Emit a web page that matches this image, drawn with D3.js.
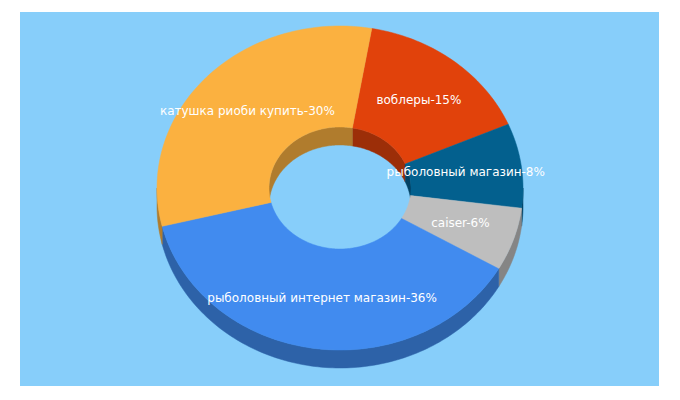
<!DOCTYPE html>
<html><head><meta charset="utf-8">
<script src="https://cdn.jsdelivr.net/npm/d3@7"></script>
<style>body{margin:0;background:#fff}</style></head>
<body><svg id="c" width="680" height="400"></svg>
<script>
const categories = ["воблеры","рыболовный магазин","caiser","рыболовный интернет магазин","катушка риоби купить"];
const values = [15, 8, 6, 36, 30];
const colors = ["#E1420B","#03608E","#BEBEBE","#418BEF","#FBB140"];
const sideColors = ["#9c2e08","#024265","#858585","#2d62a8","#b07c2d"];

const svg = d3.select("#c");
svg.append("rect").attr("x",20).attr("y",12).attr("width",639).attr("height",374).attr("fill","#87CEFA");

const cx=340, cy=188, rx=183, ry=162, irx=71, iry=61, depth=18;
const pie = d3.pie().sort(null).value(d=>d).startAngle(10*Math.PI/180).endAngle(10*Math.PI/180+2*Math.PI);
const arcs = pie(values);
const pt=(a,r1,r2,dy)=>[cx+r1*Math.sin(a), cy-r2*Math.cos(a)+dy];
function samp(a0,a1){const n=Math.max(2,Math.ceil((a1-a0)/0.02));return d3.range(n+1).map(i=>a0+(a1-a0)*i/n);}
const line=d3.line();
function clipRanges(a0,a1,lo,hi){ // visible range [lo,hi] with period 2pi
  const out=[];
  for(let k=-1;k<=1;k++){const L=lo+2*Math.PI*k,H=hi+2*Math.PI*k;const s=Math.max(a0,L),e=Math.min(a1,H);if(e>s)out.push([s,e]);}
  return out;
}
const g=svg.append("g");
// inner walls (back half visible)
arcs.forEach((d,i)=>{
  clipRanges(d.startAngle,d.endAngle,-Math.PI/2,Math.PI/2).forEach(([s,e])=>{
    const A=samp(s,e);
    const p=A.map(a=>pt(a,irx,iry,0)).concat(A.slice().reverse().map(a=>pt(a,irx,iry,depth)));
    g.append("path").attr("d",line(p)+"Z").attr("fill",sideColors[i]).attr("stroke",sideColors[i]).attr("stroke-width",0.5);
  });
});
// outer walls (front half)
arcs.forEach((d,i)=>{
  clipRanges(d.startAngle,d.endAngle,Math.PI/2,3*Math.PI/2).forEach(([s,e])=>{
    const A=samp(s,e);
    const p=A.map(a=>pt(a,rx,ry,0)).concat(A.slice().reverse().map(a=>pt(a,rx,ry,depth)));
    g.append("path").attr("d",line(p)+"Z").attr("fill",sideColors[i]).attr("stroke",sideColors[i]).attr("stroke-width",0.5);
  });
});
// top faces
arcs.forEach((d,i)=>{
  const A=samp(d.startAngle,d.endAngle);
  const p=A.map(a=>pt(a,rx,ry,0)).concat(A.slice().reverse().map(a=>pt(a,irx,iry,0)));
  g.append("path").attr("d",line(p)+"Z").attr("fill",colors[i]).attr("stroke",colors[i]).attr("stroke-width",0.5);
});
// labels
arcs.forEach((d,i)=>{
  const m=(d.startAngle+d.endAngle)/2;
  const [x,y]=pt(m,(rx+irx)/2,(ry+iry)/2,0);
  svg.append("text").attr("x",x).attr("y",y).attr("text-anchor","middle").attr("dominant-baseline","middle")
    .attr("fill","#fff").attr("font-family","DejaVu Sans, Verdana, sans-serif").attr("font-size",12)
    .text(categories[i]+"-"+values[i]+"%");
});
</script></body></html>
